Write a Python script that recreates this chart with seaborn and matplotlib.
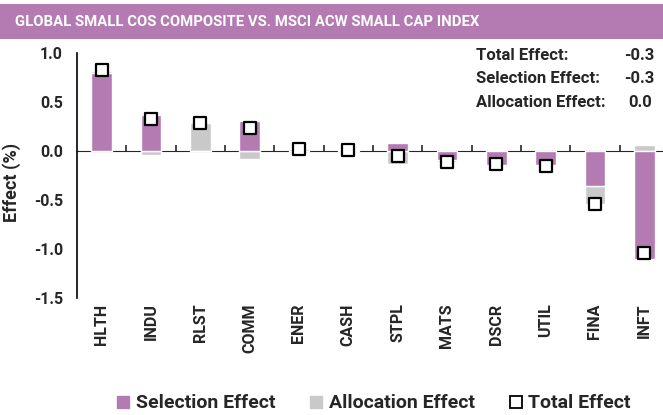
import numpy as np
import pandas as pd
import matplotlib
matplotlib.use("Agg")
import matplotlib.pyplot as plt
from matplotlib.patches import Rectangle
from matplotlib.lines import Line2D
import seaborn as sns

# Data (effect in %)
sectors = ["HLTH", "INDU", "RLST", "COMM", "ENER", "CASH",
           "STPL", "MATS", "DSCR", "UTIL", "FINA", "INFT"]
selection = [0.80, 0.37, 0.00, 0.31, 0.00, 0.00, 0.08, -0.09, -0.14, -0.14, -0.36, -1.10]
allocation = [0.02, -0.04, 0.29, -0.08, 0.02, 0.01, -0.13, -0.02, 0.01, -0.01, -0.18, 0.06]
total = [0.83, 0.33, 0.29, 0.24, 0.02, 0.01, -0.05, -0.11, -0.13, -0.15, -0.54, -1.04]

summary_labels = ["Total Effect:", "Selection Effect:", "Allocation Effect:"]
summary_values = ["-0.3", "-0.3", "0.0"]

title = "GLOBAL SMALL COS COMPOSITE VS. MSCI ACW SMALL CAP INDEX"

purple = "#B47BB3"
grey = "#C9C9C9"

df = pd.DataFrame({"sector": sectors, "selection": selection,
                   "allocation": allocation, "total": total})
# allocation stacks on top of selection when both share a sign
same_sign = np.sign(df["selection"]) == np.sign(df["allocation"])
df["alloc_base"] = np.where(same_sign, df["selection"], 0.0)

sns.set_style("white")
plt.rcParams["font.family"] = ["Roboto", "DejaVu Sans"]
plt.rcParams["font.weight"] = "semibold"
plt.rcParams["axes.labelweight"] = "semibold"
plt.rcParams["axes.unicode_minus"] = False

fig = plt.figure(figsize=(6.63, 4.15), dpi=100)
ax = fig.add_axes([0.116, 0.282, 0.893, 0.590])

sns.barplot(data=df, x="sector", y="allocation", bottom=df["alloc_base"].values,
            color=grey, width=0.42, saturation=1, ax=ax, zorder=1)
sns.barplot(data=df, x="sector", y="selection", color=purple, width=0.42,
            saturation=1, ax=ax, zorder=2)
sns.scatterplot(data=df, x="sector", y="total", marker="s", s=80, color="white",
                edgecolor="black", linewidth=1.6, ax=ax, zorder=3)

ymin, ymax = -1.5, 1.0
ax.set_ylim(ymin, ymax)
ax.set_xlim(-0.5, len(sectors) - 0.5)
ax.set_yticks(np.arange(-1.5, 1.01, 0.5))
ax.set_yticklabels([f"{v:.1f}" for v in np.arange(-1.5, 1.01, 0.5)])
ax.set_xlabel("")
ax.set_ylabel("Effect (%)", fontsize=13, labelpad=6)
ax.yaxis.set_label_coords(-0.095, 0.47)

for side in ["top", "right", "bottom"]:
    ax.spines[side].set_visible(False)
ax.spines["left"].set_color("black")
ax.spines["left"].set_linewidth(1.2)
ax.tick_params(axis="y", direction="out", length=4, width=1.2, labelsize=11.5, pad=6)
ax.tick_params(axis="x", length=0, labelsize=11.5, pad=4, rotation=90)

# zero line with separators between categories
zero_frac = (0 - ymin) / (ymax - ymin)
sec = ax.secondary_xaxis(zero_frac)
sec.set_xticks(np.arange(0.5, len(sectors) - 1, 1.0))
sec.set_xticklabels([])
sec.tick_params(direction="out", length=4, width=1.2)
sec.spines["bottom"].set_linewidth(1.2)

# header band
fig.patches.append(Rectangle((0, 0.906), 1, 0.084, transform=fig.transFigure,
                             facecolor=purple, edgecolor="none", zorder=0))
fig.text(0.023, 0.948, title, color="white", fontsize=10.7,
         va="center", ha="left")

# summary box
for i, (lab, val) in enumerate(zip(summary_labels, summary_values)):
    y = 0.867 - i * 0.057
    fig.text(0.718, y, lab, fontsize=12, va="center")
    fig.text(0.941 if val.startswith("-") else 0.948, y, val, fontsize=12, va="center")

handles = [
    Line2D([], [], marker="s", linestyle="none", markersize=9, markerfacecolor=purple,
           markeredgecolor=purple, label="Selection Effect"),
    Line2D([], [], marker="s", linestyle="none", markersize=9, markerfacecolor=grey,
           markeredgecolor=grey, label="Allocation Effect"),
    Line2D([], [], marker="s", linestyle="none", markersize=8, markerfacecolor="white",
           markeredgecolor="black", markeredgewidth=1.3, label="Total Effect"),
]
fig.legend(handles=handles, loc="center", bbox_to_anchor=(0.563, 0.028), ncol=3,
           frameon=False, prop={"size": 14}, handlelength=0.8,
           handletextpad=0.25, columnspacing=1.7)

fig.savefig("out.png", dpi=100)
